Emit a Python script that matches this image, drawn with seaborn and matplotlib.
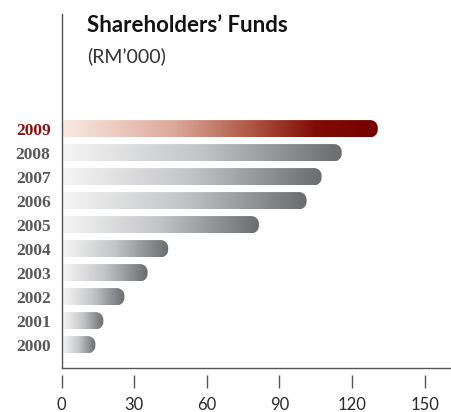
import numpy as np
import pandas as pd
import matplotlib
matplotlib.use("Agg")
import matplotlib.pyplot as plt
import seaborn as sns
from matplotlib.colors import LinearSegmentedColormap
from matplotlib.path import Path
from matplotlib.patches import PathPatch

# data (RM'000)
years = ["2009", "2008", "2007", "2006", "2005", "2004", "2003", "2002", "2001", "2000"]
funds = [130.6, 115.7, 107.4, 101.2, 81.5, 44.0, 35.5, 25.9, 17.2, 13.9]
x_ticks = [0, 30, 60, 90, 120, 150]
highlight_year = "2009"

title = "Shareholders\u2019 Funds"
subtitle = "(RM\u2019000)"

W, H = 452, 412
AX_LEFT, AX_TOP, AX_BOTTOM = 61.7, 14, 368

sns.set_theme(style="white")
plt.rcParams["font.family"] = ["Lato", "DejaVu Sans"]

grey_cmap = LinearSegmentedColormap.from_list(
    "grey_bar", [(0, "#f5f5f5"), (0.5, "#c2c3c5"), (1, "#6b6c70")])
red_cmap = LinearSegmentedColormap.from_list(
    "red_bar", [(0, "#fae9e2"), (0.35, "#dca999"), (0.6, "#ae5542"),
                (0.8, "#820c06"), (1, "#740000")])

fig = plt.figure(figsize=(W / 100, H / 100), dpi=100)
ax = fig.add_axes([AX_LEFT / W, (H - AX_BOTTOM) / H, 1 - AX_LEFT / W, (AX_BOTTOM - AX_TOP) / H])

df = pd.DataFrame({"year": years, "funds": funds})
sns.barplot(data=df, x="funds", y="year", orient="h", width=0.72,
            color="white", ax=ax)

xlim = (0, 161.3)
ylim = (9.97, -4.78)
ax.set_xlim(*xlim)
ax.set_ylim(*ylim)

# pixels per data unit, to keep the rounded corners circular
px_x = ax.transData.transform((1, 0))[0] - ax.transData.transform((0, 0))[0]
px_y = abs(ax.transData.transform((0, 1))[1] - ax.transData.transform((0, 0))[1])


def corner(cx, cy, rx, ry, t0, t1, n=12):
    t = np.linspace(t0, t1, n)
    return list(zip(cx + rx * np.cos(t), cy + ry * np.sin(t)))


def bar_path(x0, x1, y0, y1, r_left, r_right):
    lx, ly = r_left / px_x, r_left / px_y
    rx, ry = r_right / px_x, r_right / px_y
    pts = []
    pts += corner(x1 - rx, y0 + ry, rx, ry, -np.pi / 2, 0)
    pts += corner(x1 - rx, y1 - ry, rx, ry, 0, np.pi / 2)
    pts += corner(x0 + lx, y1 - ly, lx, ly, np.pi / 2, np.pi)
    pts += corner(x0 + lx, y0 + ly, lx, ly, np.pi, 1.5 * np.pi)
    pts.append(pts[0])
    codes = [Path.MOVETO] + [Path.LINETO] * (len(pts) - 2) + [Path.CLOSEPOLY]
    return Path(pts, codes)


gradient = np.linspace(0, 1, 256).reshape(1, -1)
for patch, year in zip(ax.patches, years):
    x0 = patch.get_x() + 0.4
    x1 = patch.get_x() + patch.get_width()
    y0 = patch.get_y()
    y1 = y0 + patch.get_height()
    patch.set_visible(False)
    clip = PathPatch(bar_path(x0, x1, y0, y1, 3, 7.5), facecolor="none",
                     edgecolor="none")
    ax.add_patch(clip)
    cmap = red_cmap if year == highlight_year else grey_cmap
    im = ax.imshow(gradient, cmap=cmap, extent=[x0, x1, y1, y0],
                   aspect="auto", interpolation="bicubic", zorder=2)
    im.set_clip_path(clip)

ax.set_xlim(*xlim)
ax.set_ylim(*ylim)

# axes styling
axis_col = "#555555"
for side in ["top", "right"]:
    ax.spines[side].set_visible(False)
ax.spines["left"].set_color(axis_col)
ax.spines["left"].set_linewidth(1.0)
ax.spines["bottom"].set_position(("outward", 5))
ax.spines["bottom"].set_visible(False)
ax.axhline(ylim[0], color=axis_col, lw=1.0, clip_on=False)

ax.set_xticks(x_ticks)
ax.set_xticklabels([str(t) for t in x_ticks])
ax.tick_params(axis="x", bottom=True, direction="out", length=9.3, width=1.0,
               color=axis_col, pad=6.5, labelsize=12, labelcolor="#2a2a2a")
ax.tick_params(axis="y", left=False, length=0, pad=8)
for lab in ax.get_yticklabels():
    lab.set_fontfamily("Liberation Serif")
    lab.set_fontweight("bold")
    lab.set_fontsize(12.5)
    lab.set_color("#8b1010" if lab.get_text() == highlight_year else "#58585a")

ax.set_xlabel("")
ax.set_ylabel("")
ax.grid(False)

fig.text(87 / W, 1 - 32 / H, title, fontsize=16, fontweight="bold",
         color="#111111", ha="left", va="baseline")
fig.text(87 / W, 1 - 62.3 / H, subtitle, fontsize=14, color="#333333",
         ha="left", va="baseline")

fig.savefig("out.png", dpi=100)
